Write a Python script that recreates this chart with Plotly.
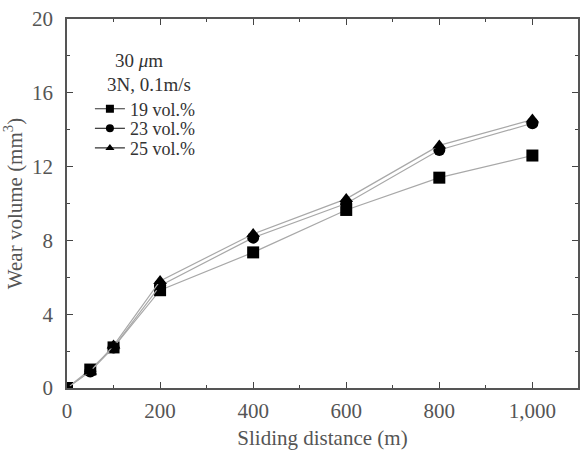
import plotly.graph_objects as go

distance = [0, 50, 100, 200, 400, 600, 800, 1000]
vol19 = [0.0, 1.0, 2.2, 5.3, 7.35, 9.65, 11.4, 12.6]
vol23 = [0.0, 0.9, 2.2, 5.55, 8.15, 10.0, 12.9, 14.35]
vol25 = [0.0, 0.9, 2.3, 5.8, 8.35, 10.25, 13.15, 14.55]
names = ["19 vol.%", "23 vol.%", "25 vol.%"]
symbols = ["square", "circle", "triangle-up"]
legend_ids = ["legend", "legend2", "legend3"]

FONT = "Liberation Serif"
TOP, BOT, LEFT, RIGHT = 11, 66, 67, 7
PH = 454 - TOP - BOT
PW = 587 - LEFT - RIGHT

fig = go.Figure()
for name, ys, sym in zip(names, [vol19, vol23, vol25], symbols):
    fig.add_trace(go.Scatter(
        x=distance, y=ys, name=name, mode="lines+markers", showlegend=False,
        line=dict(color="#a8a8a8", width=1.2),
        marker=dict(symbol=sym, size=12, color="black"),
    ))
# legend-only entries (small symbols as in the reference legend)
for name, sym, lg in zip(names, symbols, legend_ids):
    fig.add_trace(go.Scatter(
        x=[None], y=[None], name=name, mode="lines+markers", legend=lg,
        line=dict(color="#333333", width=1.2),
        marker=dict(symbol=sym, size=8, color="black"),
    ))

axis_common = dict(
    showline=True, linecolor="#555555", linewidth=1.5, mirror="ticks",
    ticks="inside", ticklen=6, tickwidth=1.2, tickcolor="#444444",
    showgrid=False, zeroline=False, ticklabeloverflow="allow",
    tickfont=dict(family=FONT, size=21, color="#555555"),
    title_font=dict(family=FONT, size=21, color="#555555"),
)
fig.update_xaxes(range=[0, 1098], tickvals=[0, 200, 400, 600, 800, 1000],
                 ticktext=["0", "200", "400", "600", "800", "1,000"],
                 minor=dict(ticks="inside", ticklen=3, tickcolor="#444444", dtick=100, tick0=0),
                 ticklabelstandoff=3,
                 title_text="Sliding distance (m)", title_standoff=8, **axis_common)
fig.update_yaxes(range=[0, 20], tickvals=[0, 4, 8, 12, 16, 20],
                 minor=dict(ticks="inside", ticklen=3, tickcolor="#444444", dtick=2, tick0=0),
                 ticklabelstandoff=8,
                 title_text="Wear volume (mm<sup>3</sup>)", title_standoff=4, **axis_common)


def py(pix):
    return (454 - BOT - pix) / PH


def px(pix):
    return (pix - LEFT) / PW


fig.add_annotation(x=px(139), y=py(53), xref="paper", yref="paper",
                   xanchor="center", yanchor="middle",
                   text="30 <i>μ</i>m", showarrow=False,
                   font=dict(family=FONT, size=19, color="#333333"))
fig.add_annotation(x=px(149), y=py(78), xref="paper", yref="paper",
                   xanchor="center", yanchor="middle",
                   text="3N, 0.1m/s", showarrow=False,
                   font=dict(family=FONT, size=19, color="#333333"))

legend_style = dict(xanchor="left", yanchor="middle", bgcolor="rgba(0,0,0,0)",
                    itemwidth=30, font=dict(family=FONT, size=18, color="#333333"))
fig.update_layout(
    width=587, height=454,
    margin=dict(l=LEFT, r=RIGHT, t=TOP, b=BOT),
    plot_bgcolor="white", paper_bgcolor="white",
    legend=dict(x=px(90), y=py(103), **legend_style),
    legend2=dict(x=px(90), y=py(123), **legend_style),
    legend3=dict(x=px(90), y=py(143), **legend_style),
)
fig.write_html("out.html")
